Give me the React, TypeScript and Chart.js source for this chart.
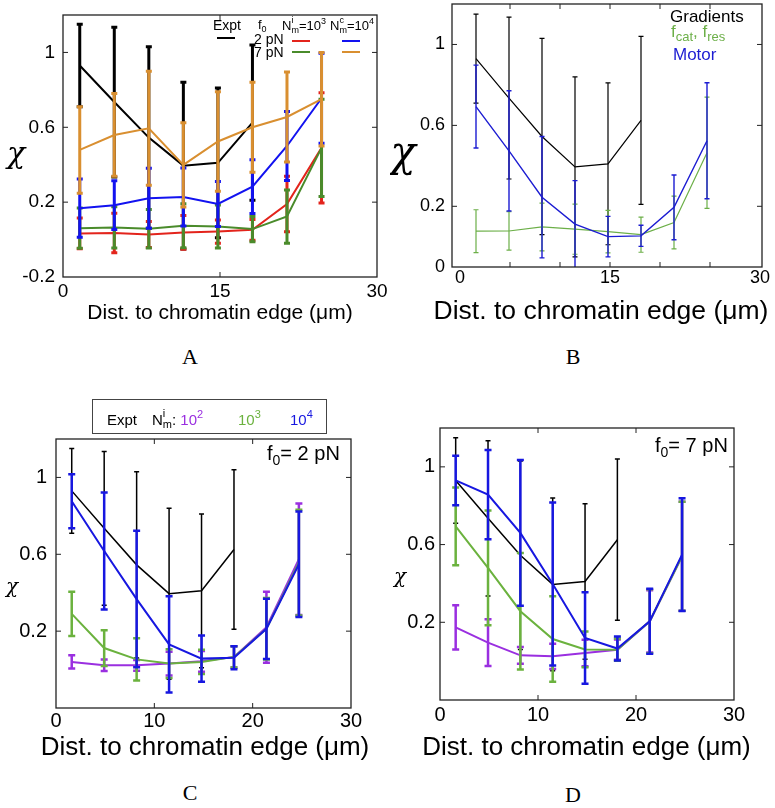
import React, { useEffect, useRef } from "react";
import { Chart, registerables } from "chart.js";
Chart.register(...registerables);

const SANS = "'Liberation Sans', Arial, sans-serif";
const SERIF = "'Liberation Serif', 'Times New Roman', serif";
const CHI = "'DejaVu Serif', serif";

// ---------- data ----------
const distances = [1.6, 4.9, 8.2, 11.5, 14.8, 18.1, 21.4, 24.7];
const exptDistances = [1.6, 4.9, 8.2, 11.5, 14.8, 18.1];
const exptChi = [0.93, 0.735, 0.545, 0.395, 0.41, 0.625];
const exptErr = [0.22, 0.4, 0.485, 0.445, 0.4, 0.415];

// Panel A
const a2pnNi = [0.033, 0.035, 0.027, 0.038, 0.043, 0.052, 0.19, 0.49];
const a2pnNiErr = [0.082, 0.105, 0.07, 0.09, 0.062, 0.055, 0.148, 0.295];
const a7pnNi = [0.061, 0.065, 0.058, 0.074, 0.07, 0.056, 0.123, 0.49];
const a7pnNiErr = [0.108, 0.11, 0.103, 0.118, 0.115, 0.067, 0.142, 0.26];
const a2pnNc = [0.168, 0.184, 0.221, 0.228, 0.19, 0.283, 0.5, 0.755];
const a2pnNcErr = [0.155, 0.13, 0.16, 0.155, 0.12, 0.144, 0.185, 0.24];
const a7pnNc = [0.479, 0.559, 0.595, 0.399, 0.524, 0.6, 0.655, 0.75];
const a7pnNcErr = [0.231, 0.221, 0.305, 0.225, 0.266, 0.24, 0.24, 0.25];

// Panel B
const bMotor = [0.693, 0.474, 0.245, 0.112, 0.05, 0.054, 0.195, 0.524];
const bMotorErr = [0.205, 0.297, 0.3, 0.215, 0.1, 0.052, 0.16, 0.287];
const bFcat = [0.077, 0.078, 0.098, 0.087, 0.075, 0.06, 0.12, 0.465];
const bFcatErr = [0.106, 0.095, 0.118, 0.124, 0.105, 0.087, 0.13, 0.275];

// Panel C (f0 = 2 pN)
const c1e2 = [0.04, 0.022, 0.022, 0.031, 0.043, 0.066, 0.22, 0.574];
const c1e2Err = [0.035, 0.03, 0.028, 0.062, 0.054, 0.055, 0.185, 0.29];
const c1e3 = [0.29, 0.112, 0.053, 0.031, 0.04, 0.066, 0.212, 0.557];
const c1e3Err = [0.115, 0.093, 0.11, 0.075, 0.063, 0.055, 0.16, 0.275];
const c1e4 = [0.876, 0.617, 0.367, 0.131, 0.057, 0.062, 0.212, 0.548];
const c1e4Err = [0.14, 0.305, 0.355, 0.25, 0.12, 0.06, 0.157, 0.275];

// Panel D (f0 = 7 pN)
const d1e2 = [0.174, 0.095, 0.03, 0.025, 0.042, 0.059, 0.205, 0.54];
const d1e2Err = [0.114, 0.12, 0.043, 0.065, 0.068, 0.052, 0.16, 0.28];
const d1e3 = [0.694, 0.48, 0.257, 0.114, 0.06, 0.059, 0.205, 0.54];
const d1e3Err = [0.2, 0.295, 0.3, 0.22, 0.092, 0.057, 0.165, 0.28];
const d1e4 = [0.93, 0.857, 0.66, 0.397, 0.119, 0.065, 0.205, 0.548];
const d1e4Err = [0.127, 0.23, 0.375, 0.42, 0.236, 0.062, 0.167, 0.29];

// tick labels
const xTicksAB = [0, 15, 30];
const xTicksCD = [0, 10, 20, 30];
const yTicksA = [-0.2, 0.2, 0.6, 1];
const yTicksB = [-0.1, 0.2, 0.6, 1];
const yTicksCD = [0.2, 0.6, 1];
const xMarksB = [5, 10, 15, 20, 25];
const xTitle = "Dist. to chromatin edge (\u03bcm)";

// ---------- helpers ----------
function series(label: string, xs: number[], ys: number[], errs: number[], color: string, lw: number, ew: number, cap: number) {
  return {
    label,
    data: xs.map((x, i) => ({ x, y: ys[i] })),
    err: errs,
    borderColor: color,
    backgroundColor: color,
    borderWidth: lw,
    errWidth: ew,
    capWidth: cap,
    showLine: true,
    pointRadius: 0,
    pointHoverRadius: 0,
    tension: 0,
    fill: false,
  };
}

type Run = { t: string; size: number; dy?: number; color?: string; back?: boolean };
function drawRuns(ctx: CanvasRenderingContext2D, x0: number, y: number, runs: Run[]) {
  let x = x0;
  let prevStart = x0;
  let prevEnd = x0;
  for (const r of runs) {
    const start = r.back ? prevStart : x;
    ctx.font = `${r.size}px ${SANS}`;
    ctx.fillStyle = r.color || "#000";
    ctx.textAlign = "left";
    ctx.textBaseline = "alphabetic";
    ctx.fillText(r.t, start, y + (r.dy || 0));
    const end = start + ctx.measureText(r.t).width;
    x = r.back ? Math.max(prevEnd, end) : end;
    prevStart = start;
    prevEnd = x;
  }
}
function chi(ctx: CanvasRenderingContext2D, x: number, y: number, size: number) {
  ctx.font = `italic ${size}px ${CHI}`;
  ctx.fillStyle = "#000";
  ctx.textAlign = "center";
  ctx.textBaseline = "middle";
  ctx.fillText("\u03c7", x, y);
}
function centerText(ctx: CanvasRenderingContext2D, t: string, x: number, y: number, size: number) {
  ctx.font = `${size}px ${SANS}`;
  ctx.fillStyle = "#000";
  ctx.textAlign = "center";
  ctx.textBaseline = "middle";
  ctx.fillText(t, x, y);
}
function hline(ctx: CanvasRenderingContext2D, x1: number, x2: number, y: number, color: string, w: number) {
  ctx.strokeStyle = color;
  ctx.lineWidth = w;
  ctx.beginPath();
  ctx.moveTo(x1, y);
  ctx.lineTo(x2, y);
  ctx.stroke();
}

const errorBarPlugin = {
  id: "errorBars",
  afterDatasetDraw(chart: any, args: any) {
    const ds = chart.data.datasets[args.index];
    if (!ds.err) return;
    const { ctx, chartArea } = chart;
    const ys = chart.scales.y;
    ctx.save();
    ctx.beginPath();
    ctx.rect(chartArea.left, chartArea.top, chartArea.right - chartArea.left, chartArea.bottom - chartArea.top);
    ctx.clip();
    ctx.strokeStyle = ds.borderColor;
    ctx.lineWidth = ds.errWidth;
    args.meta.data.forEach((pt: any, j: number) => {
      const v = ds.data[j].y;
      const e = ds.err[j];
      const yt = ys.getPixelForValue(v + e);
      const yb = ys.getPixelForValue(v - e);
      const x = pt.x;
      const c = ds.capWidth / 2;
      ctx.beginPath();
      ctx.moveTo(x, yt);
      ctx.lineTo(x, yb);
      ctx.moveTo(x - c, yt);
      ctx.lineTo(x + c, yt);
      ctx.moveTo(x - c, yb);
      ctx.lineTo(x + c, yb);
      ctx.stroke();
    });
    ctx.restore();
  },
};

const framePlugin = {
  id: "frame",
  afterDraw(chart: any) {
    const o = chart.options.plugins.frame;
    if (!o) return;
    const { ctx, chartArea: a } = chart;
    const xs = chart.scales.x;
    const ys = chart.scales.y;
    ctx.save();
    ctx.strokeStyle = "#222";
    ctx.lineWidth = 1.3;
    ctx.strokeRect(a.left, a.top, a.right - a.left, a.bottom - a.top);
    ctx.lineWidth = 1;
    const L = 5;
    ctx.beginPath();
    for (const v of o.xMarks) {
      const p = xs.getPixelForValue(v);
      ctx.moveTo(p, a.bottom);
      ctx.lineTo(p, a.bottom - L);
      ctx.moveTo(p, a.top);
      ctx.lineTo(p, a.top + L);
    }
    for (const v of o.yMarks) {
      const p = ys.getPixelForValue(v);
      ctx.moveTo(a.left, p);
      ctx.lineTo(a.left + L, p);
      ctx.moveTo(a.right, p);
      ctx.lineTo(a.right - L, p);
    }
    ctx.stroke();
    ctx.restore();
  },
};

type PanelCfg = {
  left: number; top: number; w: number; h: number;
  area: { l: number; t: number; r: number; b: number };
  xMin: number; xMax: number; yMin: number; yMax: number;
  xTicks: number[]; yTicks: number[]; xMarks: number[]; yMarks: number[];
  tickSize: number; xPad: number; yPad: number;
  yLabel: (v: number) => string;
  datasets: any[];
  deco: (ctx: CanvasRenderingContext2D) => void;
};

function Panel({ cfg }: { cfg: PanelCfg }) {
  const ref = useRef<HTMLCanvasElement>(null);
  useEffect(() => {
    if (!ref.current) return;
    const n = cfg.datasets.length;
    const datasets = cfg.datasets.map((d, i) => ({ ...d, order: n - i }));
    const chart = new Chart(ref.current, {
      type: "scatter",
      data: { datasets },
      options: {
        animation: false,
        responsive: false,
        devicePixelRatio: 1,
        layout: { padding: { left: 0, top: cfg.area.t, right: cfg.w - cfg.area.r, bottom: 0 } },
        plugins: {
          legend: { display: false },
          tooltip: { enabled: false },
          frame: { xMarks: cfg.xMarks, yMarks: cfg.yMarks },
        } as any,
        scales: {
          x: {
            type: "linear",
            min: cfg.xMin,
            max: cfg.xMax,
            afterBuildTicks: (s: any) => { s.ticks = cfg.xTicks.map((v) => ({ value: v })); },
            afterFit: (s: any) => {
              s.height = cfg.h - cfg.area.b;
              s.paddingLeft = 0; s.paddingRight = 0; s.paddingTop = 0; s.paddingBottom = 0;
            },
            grid: { display: false, drawTicks: false },
            border: { display: false },
            ticks: {
              font: { family: SANS, size: cfg.tickSize, lineHeight: 1 },
              color: "#000",
              padding: cfg.xPad,
              maxRotation: 0,
              autoSkip: false,
              callback: (v: any) => String(v),
            },
          },
          y: {
            type: "linear",
            min: cfg.yMin,
            max: cfg.yMax,
            afterBuildTicks: (s: any) => { s.ticks = cfg.yTicks.map((v) => ({ value: v })); },
            afterFit: (s: any) => {
              s.width = cfg.area.l;
              s.paddingLeft = 0; s.paddingRight = 0; s.paddingTop = 0; s.paddingBottom = 0;
            },
            grid: { display: false, drawTicks: false },
            border: { display: false },
            ticks: {
              font: { family: SANS, size: cfg.tickSize, lineHeight: 1 },
              color: "#000",
              padding: cfg.yPad,
              autoSkip: false,
              callback: (v: any) => cfg.yLabel(Number(v)),
            },
          },
        },
      } as any,
      plugins: [
        errorBarPlugin,
        framePlugin,
        { id: "deco", afterDraw: (c: any) => { c.ctx.save(); cfg.deco(c.ctx); c.ctx.restore(); } },
      ],
    });
    return () => chart.destroy();
  }, []);
  return (
    <canvas
      ref={ref}
      width={cfg.w}
      height={cfg.h}
      style={{ position: "absolute", left: cfg.left, top: cfg.top, width: cfg.w, height: cfg.h }}
    />
  );
}

// ---------- colours ----------
const BLACK = "#000000";
const A_RED = "#e3241c";
const A_GREEN = "#4a8b2b";
const A_BLUE = "#1212f0";
const A_ORANGE = "#d98f30";
const B_GREEN = "#6caf48";
const B_BLUE = "#1c1cd2";
const CD_PURPLE = "#9a2fe0";
const CD_GREEN = "#6bb23e";
const CD_BLUE = "#1717e0";

const fmt = (v: number) => String(Math.round(v * 10) / 10);

const panelA: PanelCfg = {
  left: 0, top: 0, w: 390, h: 335,
  area: { l: 63, t: 15, r: 377, b: 277 },
  xMin: 0, xMax: 30, yMin: -0.2, yMax: 1.2,
  xTicks: xTicksAB, yTicks: yTicksA, xMarks: [15], yMarks: [0.2, 0.6, 1],
  tickSize: 19, xPad: 5.5, yPad: 8,
  yLabel: fmt,
  datasets: [
    series("Expt", exptDistances, exptChi, exptErr, BLACK, 2, 3, 6),
    series("2 pN, Nim=10^3", distances, a2pnNi, a2pnNiErr, A_RED, 2, 3, 6),
    series("7 pN, Nim=10^3", distances, a7pnNi, a7pnNiErr, A_GREEN, 2, 3, 6),
    series("2 pN, Ncm=10^4", distances, a2pnNc, a2pnNcErr, A_BLUE, 2, 3, 6),
    series("7 pN, Ncm=10^4", distances, a7pnNc, a7pnNcErr, A_ORANGE, 2, 3, 6),
  ],
  deco: (ctx) => {
    chi(ctx, 16, 155, 30);
    centerText(ctx, xTitle, 220, 313, 21);
    drawRuns(ctx, 213, 30, [{ t: "Expt", size: 14 }]);
    hline(ctx, 217, 235, 38, BLACK, 2);
    drawRuns(ctx, 258, 29, [{ t: "f", size: 13 }, { t: "0", size: 9, dy: 3 }]);
    drawRuns(ctx, 282, 30, [
      { t: "N", size: 13 }, { t: "i", size: 9, dy: -7 }, { t: "m", size: 9, dy: 3, back: true },
      { t: "=10", size: 13 }, { t: "3", size: 9, dy: -6 },
    ]);
    drawRuns(ctx, 330, 30, [
      { t: "N", size: 13 }, { t: "c", size: 9, dy: -7 }, { t: "m", size: 9, dy: 3, back: true },
      { t: "=10", size: 13 }, { t: "4", size: 9, dy: -6 },
    ]);
    drawRuns(ctx, 254, 44, [{ t: "2 pN", size: 14 }]);
    drawRuns(ctx, 254, 57, [{ t: "7 pN", size: 14 }]);
    hline(ctx, 292, 310, 41, A_RED, 2);
    hline(ctx, 342, 360, 41, A_BLUE, 2);
    hline(ctx, 292, 310, 52, A_GREEN, 2);
    hline(ctx, 342, 360, 52, A_ORANGE, 2);
  },
};

const panelB: PanelCfg = {
  left: 390, top: 0, w: 385, h: 335,
  area: { l: 62, t: 4, r: 372, b: 267 },
  xMin: -0.8, xMax: 30.2, yMin: -0.1, yMax: 1.2,
  xTicks: xTicksAB, yTicks: yTicksB, xMarks: xMarksB, yMarks: [0.2, 0.6, 1],
  tickSize: 18, xPad: 2.5, yPad: 7,
  yLabel: (v) => (v < 0 ? "0" : fmt(v)),
  datasets: [
    series("Gradients", exptDistances, exptChi, exptErr, BLACK, 1.2, 1.2, 5),
    series("fcat, fres", distances, bFcat, bFcatErr, B_GREEN, 1.2, 1.2, 5),
    series("Motor", distances, bMotor, bMotorErr, B_BLUE, 1.4, 1.4, 5),
  ],
  deco: (ctx) => {
    chi(ctx, 13, 155, 42);
    centerText(ctx, xTitle, 211, 312, 26.5);
    drawRuns(ctx, 280, 22, [{ t: "Gradients", size: 17 }]);
    drawRuns(ctx, 281, 37, [
      { t: "f", size: 17, color: B_GREEN }, { t: "cat", size: 13, dy: 4, color: B_GREEN },
      { t: ", f", size: 17, color: B_GREEN }, { t: "res", size: 13, dy: 4, color: B_GREEN },
    ]);
    drawRuns(ctx, 283, 60, [{ t: "Motor", size: 17, color: B_BLUE }]);
  },
};

const panelC: PanelCfg = {
  left: 0, top: 395, w: 390, h: 375,
  area: { l: 56, t: 44, r: 351, b: 313 },
  xMin: 0, xMax: 30, yMin: -0.2, yMax: 1.2,
  xTicks: xTicksCD, yTicks: yTicksCD, xMarks: [10, 20], yMarks: [0.2, 0.6, 1],
  tickSize: 20, xPad: 3, yPad: 9,
  yLabel: fmt,
  datasets: [
    series("Expt", exptDistances, exptChi, exptErr, BLACK, 1.5, 1.5, 5),
    series("Nim=10^2", distances, c1e2, c1e2Err, CD_PURPLE, 2, 2.5, 7),
    series("Nim=10^3", distances, c1e3, c1e3Err, CD_GREEN, 2, 2.5, 7),
    series("Nim=10^4", distances, c1e4, c1e4Err, CD_BLUE, 2, 2.5, 7),
  ],
  deco: (ctx) => {
    chi(ctx, 12, 193, 20);
    centerText(ctx, xTitle, 205, 353, 26);
    ctx.strokeStyle = "#444";
    ctx.lineWidth = 1;
    ctx.strokeRect(92.5, 4.5, 234, 34);
    drawRuns(ctx, 107, 30, [{ t: "Expt", size: 15 }]);
    drawRuns(ctx, 152, 30, [
      { t: "N", size: 15 }, { t: "i", size: 11, dy: -8 }, { t: "m", size: 11, dy: 3, back: true },
      { t: ":", size: 15 }, { t: " 10", size: 15, color: CD_PURPLE }, { t: "2", size: 11, dy: -7, color: CD_PURPLE },
    ]);
    drawRuns(ctx, 238, 30, [{ t: "10", size: 15, color: CD_GREEN }, { t: "3", size: 11, dy: -7, color: CD_GREEN }]);
    drawRuns(ctx, 290, 30, [{ t: "10", size: 15, color: CD_BLUE }, { t: "4", size: 11, dy: -7, color: CD_BLUE }]);
    drawRuns(ctx, 267, 65, [{ t: "f", size: 20 }, { t: "0", size: 14, dy: 5 }, { t: "= 2 pN", size: 20 }]);
  },
};

const panelD: PanelCfg = {
  left: 390, top: 395, w: 385, h: 375,
  area: { l: 50, t: 33, r: 344, b: 305 },
  xMin: 0, xMax: 30, yMin: -0.2, yMax: 1.2,
  xTicks: xTicksCD, yTicks: yTicksCD, xMarks: [10, 20], yMarks: [0.2, 0.6, 1],
  tickSize: 20, xPad: 5, yPad: 5,
  yLabel: fmt,
  datasets: [
    series("Expt", exptDistances, exptChi, exptErr, BLACK, 1.5, 1.5, 5),
    series("Nim=10^2", distances, d1e2, d1e2Err, CD_PURPLE, 2, 2.5, 7),
    series("Nim=10^3", distances, d1e3, d1e3Err, CD_GREEN, 2, 2.5, 7),
    series("Nim=10^4", distances, d1e4, d1e4Err, CD_BLUE, 2, 2.5, 7),
  ],
  deco: (ctx) => {
    chi(ctx, 10, 183, 20);
    centerText(ctx, xTitle, 196.5, 353, 26);
    drawRuns(ctx, 265, 57, [{ t: "f", size: 20 }, { t: "0", size: 14, dy: 5 }, { t: "= 7 pN", size: 20 }]);
  },
};

const captions = [
  { t: "A", x: 190, y: 357 },
  { t: "B", x: 573, y: 357 },
  { t: "C", x: 190, y: 793 },
  { t: "D", x: 573, y: 795 },
];

export default function App() {
  return (
    <div style={{ position: "absolute", left: 0, top: 0, width: 775, height: 808, background: "#fff", overflow: "hidden" }}>
      <Panel cfg={panelA} />
      <Panel cfg={panelB} />
      <Panel cfg={panelC} />
      <Panel cfg={panelD} />
      {captions.map((c) => (
        <div
          key={c.t}
          style={{
            position: "absolute", left: c.x - 30, top: c.y - 13, width: 60, height: 26,
            lineHeight: "26px", textAlign: "center", fontFamily: SERIF, fontSize: 22, color: "#000",
          }}
        >
          {c.t}
        </div>
      ))}
    </div>
  );
}
